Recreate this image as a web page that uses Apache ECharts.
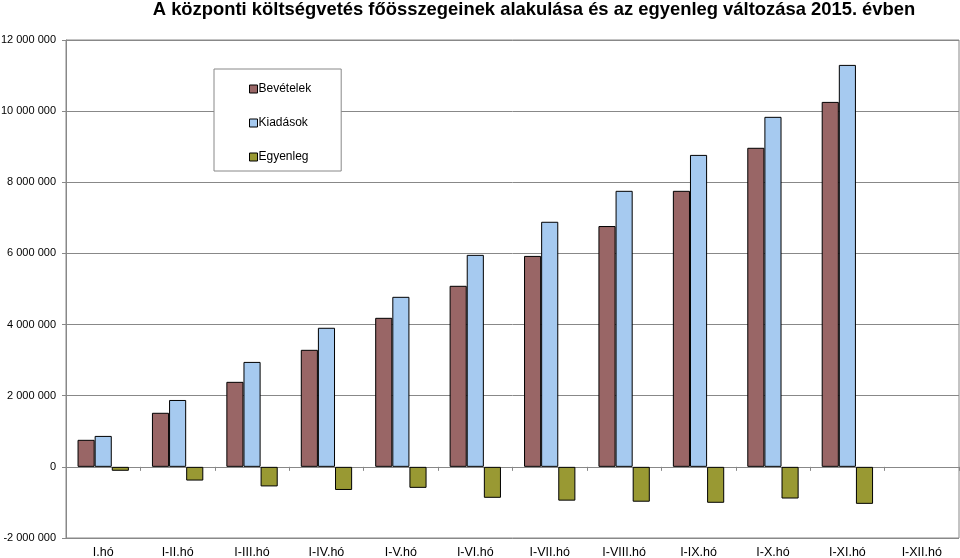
<!DOCTYPE html>
<html>
<head>
<meta charset="utf-8">
<script src="https://cdn.jsdelivr.net/npm/echarts@6/dist/echarts.min.js"></script>
<style>html,body{margin:0;padding:0;background:#fff}#c{width:960px;height:558px}</style>
</head>
<body>
<div id="c"></div>
<script>
const categories = ['I.hó','I-II.hó','I-III.hó','I-IV.hó','I-V.hó','I-VI.hó','I-VII.hó','I-VIII.hó','I-IX.hó','I-X.hó','I-XI.hó','I-XII.hó'];
const bevetelek = [760000,1520000,2390000,3290000,4190000,5090000,5930000,6770000,7760000,8970000,10260000,null];
const kiadasok = [870000,1880000,2950000,3910000,4780000,5960000,6890000,7760000,8770000,9840000,11300000,null];
const egyenleg = [-110000,-385000,-550000,-650000,-590000,-870000,-950000,-980000,-1010000,-890000,-1040000,null];
const yTicks = {min:-2000000, max:12000000, interval:2000000};

const fmt = v => {
  const s = Math.abs(v).toString().replace(/\B(?=(\d{3})+(?!\d))/g, ' ');
  return (v < 0 ? '-' : '') + s;
};
const font = 'Liberation Sans, Arial, sans-serif';
const chart = echarts.init(document.getElementById('c'));
const itemBorder = {borderColor:'#000', borderWidth:1};
chart.setOption({
  animation:false,
  title:{text:'A központi költségvetés főösszegeinek alakulása és az egyenleg változása 2015. évben',
    left:529, textAlign:'center', top:-4,
    textStyle:{fontFamily:font, fontSize:18.4, fontWeight:'bold', color:'#000'}},
  legend:{orient:'vertical', left:214, top:69,
    padding:[14,30,8,35], itemGap:22, itemWidth:8, itemHeight:8, icon:'rect',
    backgroundColor:'#fff', borderColor:'#888', borderWidth:1,
    textStyle:{fontFamily:font, fontSize:12, color:'#000', padding:[0,0,0,-4]},
    itemStyle:{borderColor:'#000', borderWidth:1},
    data:['Bevételek','Kiadások','Egyenleg']},
  grid:{left:66, right:1, top:40, bottom:20, containLabel:false, outerBoundsMode:'none',
    show:true, borderColor:'#888', borderWidth:1},
  xAxis:[{type:'category', data:categories, position:'bottom',
    axisLine:{onZero:true, lineStyle:{color:'#888'}},
    axisTick:{show:true, length:4, inside:false, lineStyle:{color:'#888'}},
    axisLabel:{show:false}},
  {type:'category', data:categories, position:'bottom',
    axisLine:{show:false, onZero:false}, axisTick:{show:false},
    axisLabel:{fontFamily:font, fontSize:12.5, color:'#000', margin:8}}],
  yAxis:{type:'value', min:yTicks.min, max:yTicks.max, interval:yTicks.interval,
    axisLine:{show:true, lineStyle:{color:'#888'}},
    axisTick:{show:true, length:4, lineStyle:{color:'#888'}},
    splitLine:{lineStyle:{color:'#888'}},
    axisLabel:{fontFamily:font, fontSize:11, color:'#000', margin:10, formatter:fmt}},
  series:[
    {name:'Bevételek', type:'bar', data:bevetelek, barGap:'0%', barCategoryGap:'31%',
      itemStyle:Object.assign({color:'#996666'}, itemBorder)},
    {name:'Kiadások', type:'bar', data:kiadasok, barGap:'0%', barCategoryGap:'31%',
      itemStyle:Object.assign({color:'#a6caf0'}, itemBorder)},
    {name:'Egyenleg', type:'bar', data:egyenleg, barGap:'0%', barCategoryGap:'31%',
      itemStyle:Object.assign({color:'#999933'}, itemBorder)}
  ]
});
</script>
</body>
</html>
